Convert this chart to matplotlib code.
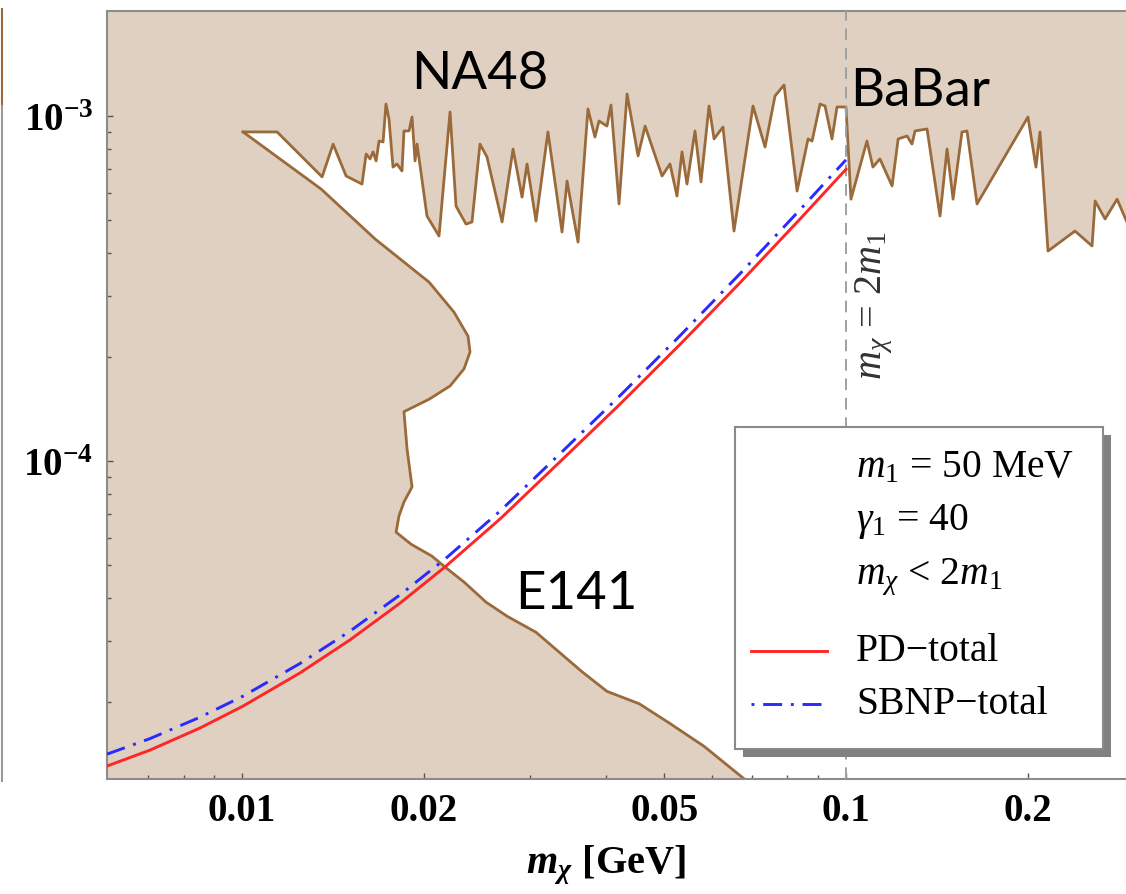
import matplotlib
matplotlib.use("Agg")
import matplotlib.pyplot as plt
from matplotlib.patches import Rectangle
from matplotlib.lines import Line2D
from matplotlib.ticker import NullFormatter

plt.rcParams["font.family"] = ["Liberation Serif", "DejaVu Serif"]
plt.rcParams["mathtext.fontset"] = "custom"
plt.rcParams["mathtext.rm"] = "Liberation Serif"
plt.rcParams["mathtext.it"] = "Liberation Serif:italic"
plt.rcParams["mathtext.bf"] = "Liberation Serif:bold"
plt.rcParams["mathtext.bfit"] = "Liberation Serif:italic:bold"

# NA48 upper limit (m_X in GeV, epsilon in units of 1e-3)
na48_x = [0.01004, 0.01143, 0.01357, 0.01415, 0.01487, 0.01580, 0.01605, 0.01629, 0.01648, 0.01667,
          0.01686, 0.01712, 0.01731, 0.01751, 0.01778, 0.01805, 0.01840, 0.01854, 0.01890, 0.01912,
          0.01934, 0.01949, 0.02024, 0.02119, 0.02210, 0.02261, 0.02349, 0.02403, 0.02477, 0.02544,
          0.02695, 0.02810, 0.02908, 0.02964, 0.03067, 0.03210, 0.03387, 0.03452, 0.03600, 0.03739,
          0.03840, 0.03900, 0.04020, 0.04082, 0.04209, 0.04340, 0.04526, 0.04649, 0.04959, 0.05112,
          0.05250, 0.05351, 0.05454, 0.05623, 0.05753, 0.05932, 0.06047, 0.06256, 0.06524, 0.07015,
          0.07344, 0.07629, 0.07896, 0.08298, 0.08653, 0.08786, 0.09057, 0.09231, 0.09480, 0.09663,
          0.09924]
na48_y = [0.899, 0.899, 0.666, 0.829, 0.670, 0.635, 0.776, 0.751, 0.787, 0.741,
          0.846, 0.841, 1.083, 0.980, 0.711, 0.726, 0.693, 0.905, 0.905, 0.993,
          0.741, 0.829, 0.513, 0.449, 1.027, 0.548, 0.486, 0.493, 0.829, 0.761,
          0.493, 0.802, 0.582, 0.726, 0.496, 0.899, 0.461, 0.648, 0.431, 1.048,
          0.869, 0.967, 0.935, 1.076, 0.556, 1.158, 0.766, 0.935, 0.670, 0.726,
          0.586, 0.787, 0.635, 0.905, 0.644, 1.069, 0.858, 0.929, 0.464, 1.069,
          0.813, 1.143, 1.230, 0.606, 0.858, 0.846, 1.083, 1.069, 0.858, 1.062,
          1.062]
na48_y = [v * 1e-3 for v in na48_y]

# BaBar upper limit
babar_x = [0.1000, 0.1019, 0.1083, 0.1108, 0.1138, 0.1192, 0.1220, 0.1262, 0.1286, 0.1301,
           0.1362, 0.1431, 0.1470, 0.1504, 0.1556, 0.1586, 0.1648, 0.2001, 0.2063, 0.2095,
           0.2160, 0.2394, 0.2555, 0.2585, 0.2685, 0.2811, 0.3000]
babar_y = [1.062, 0.574, 0.846, 0.711, 0.751, 0.627, 0.858, 0.875, 0.829, 0.905,
           0.917, 0.513, 0.802, 0.574, 0.899, 0.905, 0.556, 0.993, 0.711, 0.899,
           0.406, 0.464, 0.420, 0.567, 0.503, 0.574, 0.440]
babar_y = [v * 1e-3 for v in babar_y]

# E141 contour
e141_x = [0.01004, 0.01352, 0.01661, 0.02040, 0.02244, 0.02367, 0.02385, 0.02331, 0.02210, 0.02040,
          0.01854, 0.01876, 0.01912, 0.01854, 0.01819, 0.01799, 0.01905, 0.02063, 0.02168, 0.02331,
          0.02535, 0.02747, 0.03067, 0.03361, 0.03656, 0.04020, 0.04545, 0.05074, 0.05821, 0.06778]
e141_y = [0.899, 0.614, 0.440, 0.330, 0.270, 0.230, 0.207, 0.185, 0.165, 0.151,
          0.139, 0.1083, 0.0841, 0.0761, 0.0693, 0.0622, 0.0574, 0.0530, 0.0493, 0.0446,
          0.0390, 0.0355, 0.0319, 0.0278, 0.0245, 0.0215, 0.0198, 0.0175, 0.0149, 0.0120]
e141_y = [v * 1e-3 for v in e141_y]

# PD-total and SBNP-total
curve_x = [0.005976, 0.007043, 0.008522, 0.01004, 0.01247, 0.01510, 0.01826, 0.02168, 0.02674,
           0.03361, 0.04225, 0.05312, 0.06675, 0.08388, 0.1000]
pd_y = [1.306e-5, 1.453e-5, 1.684e-5, 1.949e-5, 2.431e-5, 3.033e-5, 3.873e-5, 4.932e-5, 6.792e-5,
        9.954e-5, 1.462e-4, 2.178e-4, 3.286e-4, 5.023e-4, 7.008e-4]
sbnp_y = [1.414e-5, 1.569e-5, 1.810e-5, 2.083e-5, 2.589e-5, 3.215e-5, 4.094e-5, 5.198e-5, 7.159e-5,
          1.050e-4, 1.547e-4, 2.309e-4, 3.490e-4, 5.345e-4, 7.464e-4]

x_ticks = [0.01, 0.02, 0.05, 0.1, 0.2]
x_tick_labels = ["0.01", "0.02", "0.05", "0.1", "0.2"]
x_minor = [0.007, 0.008, 0.009, 0.03, 0.04, 0.06, 0.07, 0.08, 0.09]
y_ticks = [1e-4, 1e-3]
y_tick_labels = [r"$\mathbf{10^{-4}}$", r"$\mathbf{10^{-3}}$"]
y_minor = [k * 1e-5 for k in range(2, 10)] + [k * 1e-4 for k in range(2, 10)]

xlo, xhi = 0.005976, 0.2908
ylo, yhi = 1.198e-5, 2.015e-3

tan = "#dfd0c1"
brown = "#9b6a3a"
red = "#ff2626"
blue = "#2a2aff"

fig = plt.figure(figsize=(11.26, 8.95), dpi=100)
ax = fig.add_axes([0.09503, 0.12849, 0.90497, 0.85810])
ax.set_xscale("log")
ax.set_yscale("log")
ax.set_xlim(xlo, xhi)
ax.set_ylim(ylo, yhi)

# excluded regions (E141 polygon reaches over to the end of the flat NA48 step to avoid a seam)
top_x = na48_x + babar_x
top_y = na48_y + babar_y
ax.fill_between(top_x, top_y, yhi, color=tan, lw=0, zorder=1)
ax.fill([xlo, xlo, na48_x[1]] + e141_x + [e141_x[-1]],
        [ylo, yhi, yhi] + e141_y + [ylo],
        color=tan, lw=0, zorder=1)
ax.plot(top_x, top_y, color=brown, lw=2, zorder=2)
ax.plot(e141_x, e141_y, color=brown, lw=2, zorder=2)

ax.axvline(0.1, color="#a0a0a0", lw=1.4, ls=(0, (6, 4)), zorder=3)

ax.plot(curve_x, sbnp_y, color=blue, lw=2.1, ls=(0, (6.5, 3, 1, 3)), zorder=4)
ax.plot(curve_x, pd_y, color=red, lw=2.1, zorder=5)

# labels of experiments
lbl_font = dict(family=["Lato", "DejaVu Sans"], fontweight="normal", fontsize=38, color="black")
ax.text(0.366, 0.918, "NA48", ha="center", va="center", transform=ax.transAxes, zorder=6, **lbl_font)
ax.text(0.729, 0.896, "BaBar", ha="left", va="center", transform=ax.transAxes, zorder=6, **lbl_font)
ax.text(0.461, 0.242, "E141", ha="center", va="center", transform=ax.transAxes, zorder=6, **lbl_font)
ax.text(0.7527, 0.618, r"$m_\chi$ = 2$m_1$", rotation=90, ha="center", va="center",
        fontsize=29, color="#333333", transform=ax.transAxes, zorder=6)

# legend box
ax.add_patch(Rectangle((0.6163 + 0.0079, 0.0391 - 0.0104), 0.3611, 0.4192, transform=ax.transAxes,
                       fc="#808080", ec="none", zorder=9))
ax.add_patch(Rectangle((0.6163, 0.0391), 0.3611, 0.4192, transform=ax.transAxes,
                       fc="white", ec="#8a8a8a", lw=1.5, zorder=10))
leg_font = dict(fontsize=28.5, ha="left", va="center", transform=ax.transAxes, zorder=11)
ax.text(0.735, 0.406, r"$m_1$ = 50 MeV", **leg_font)
ax.text(0.735, 0.336, r"$\gamma_1$ = 40", **leg_font)
ax.text(0.735, 0.264, r"$m_\chi$ < 2$m_1$", **leg_font)
ax.text(0.735, 0.167, "PD\u2212total", **leg_font)
ax.text(0.735, 0.098, "SBNP\u2212total", **leg_font)
ax.plot([0.632, 0.7066], [0.167, 0.167], transform=ax.transAxes, color=red, lw=2.1, zorder=11)
ax.plot([0.632, 0.7066], [0.098, 0.098], transform=ax.transAxes, color=blue, lw=2.1,
        ls=(0, (1, 3, 6.5, 3)), zorder=11)

# axes styling
ax.set_xticks(x_ticks, labels=x_tick_labels)
ax.set_xticks(x_minor, minor=True)
ax.set_yticks(y_ticks, labels=y_tick_labels)
ax.set_yticks(y_minor, minor=True)
ax.xaxis.set_minor_formatter(NullFormatter())
ax.yaxis.set_minor_formatter(NullFormatter())
ax.tick_params(which="both", direction="in", color="#555555", width=1, top=False, right=False)
ax.tick_params(which="major", length=4)
ax.tick_params(which="minor", length=3)
ax.tick_params(axis="x", pad=9, labelsize=28)
ax.tick_params(axis="y", pad=10, labelsize=28)
for t in ax.get_xticklabels():
    t.set_fontweight("bold")
for side in ["left", "bottom", "top"]:
    ax.spines[side].set_color("#8c8c8c")
    ax.spines[side].set_linewidth(1.5)
ax.spines["right"].set_visible(False)

ax.set_xlabel(r"$\mathbfit{m}_{\mathbfit{\chi}}$ [GeV]", fontsize=29, fontweight="bold")
ax.xaxis.set_label_coords(0.49, -0.083)

# cut-off edge of the neighbouring panel
fig.add_artist(Line2D([0.0015, 0.0015], [1 - 10 / 895, 1 - 107 / 895], color=brown, lw=1.5))
fig.add_artist(Line2D([0.0015, 0.0015], [1 - 107 / 895, 1 - 782 / 895], color="#9a9a9a", lw=1.5))

fig.savefig("out.png", dpi=100)
